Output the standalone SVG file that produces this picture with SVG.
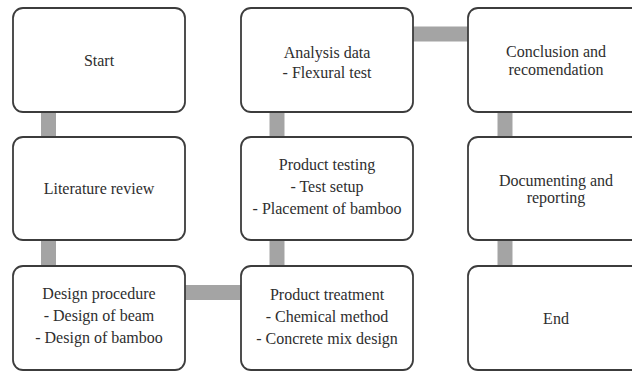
<svg xmlns="http://www.w3.org/2000/svg" width="632" height="372" viewBox="0 0 632 372">
  <style>
    .box { fill: #ffffff; stroke: #3c3c3c; stroke-width: 1.8; }
    .bar { stroke: #a4a4a4; stroke-width: 15; fill: none; }
    .lbl { font-size: 16px; fill: #2e2e2e; text-anchor: middle; }
  </style>
  <rect width="632" height="372" fill="#ffffff"/>

  <!-- connectors: thick grey bars between boxes -->
  <g id="connectors">
    <line class="bar" x1="48.5" y1="112" x2="48.5" y2="137"/>
    <line class="bar" x1="48.5" y1="240" x2="48.5" y2="266"/>
    <line class="bar" x1="185" y1="292.5" x2="241" y2="292.5"/>
    <line class="bar" x1="277" y1="266" x2="277" y2="240"/>
    <line class="bar" x1="277" y1="137" x2="277" y2="112"/>
    <line class="bar" x1="413" y1="34" x2="468" y2="34"/>
    <line class="bar" x1="505" y1="112" x2="505" y2="137"/>
    <line class="bar" x1="505" y1="240" x2="505" y2="266"/>
  </g>

  <g font-family="'Liberation Serif', 'DejaVu Serif', serif">
  <!-- column 1 -->
  <g id="start">
    <rect class="box" x="13" y="8" width="172" height="104" rx="10"/>
    <text class="lbl" x="99" y="66">Start</text>
  </g>
  <g id="literature-review">
    <rect class="box" x="13" y="137" width="172" height="103" rx="10"/>
    <text class="lbl" x="99" y="194">Literature review</text>
  </g>
  <g id="design-procedure">
    <rect class="box" x="13" y="266" width="172" height="104" rx="10"/>
    <text class="lbl" x="99" y="299">Design procedure</text>
    <text class="lbl" x="99" y="321">- Design of beam</text>
    <text class="lbl" x="99" y="343">- Design of bamboo</text>
  </g>

  <!-- column 2 -->
  <g id="analysis-data">
    <rect class="box" x="241" y="8" width="172" height="104" rx="10"/>
    <text class="lbl" x="327" y="58">Analysis data</text>
    <text class="lbl" x="327" y="78">- Flexural test</text>
  </g>
  <g id="product-testing">
    <rect class="box" x="241" y="137" width="172" height="103" rx="10"/>
    <text class="lbl" x="327" y="170">Product testing</text>
    <text class="lbl" x="327" y="192">- Test setup</text>
    <text class="lbl" x="327" y="214">- Placement of bamboo</text>
  </g>
  <g id="product-treatment">
    <rect class="box" x="241" y="266" width="172" height="104" rx="10"/>
    <text class="lbl" x="327" y="300">Product treatment</text>
    <text class="lbl" x="327" y="322">- Chemical method</text>
    <text class="lbl" x="327" y="344">- Concrete mix design</text>
  </g>

  <!-- column 3 (runs past the right edge) -->
  <g id="conclusion">
    <rect class="box" x="468" y="8" width="176" height="104" rx="10"/>
    <text class="lbl" x="556" y="57">Conclusion and</text>
    <text class="lbl" x="556" y="75">recomendation</text>
  </g>
  <g id="documenting">
    <rect class="box" x="468" y="137" width="176" height="103" rx="10"/>
    <text class="lbl" x="556" y="186">Documenting and</text>
    <text class="lbl" x="556" y="203">reporting</text>
  </g>
  <g id="end">
    <rect class="box" x="468" y="266" width="176" height="104" rx="10"/>
    <text class="lbl" x="556" y="324">End</text>
  </g>
  </g>
</svg>
